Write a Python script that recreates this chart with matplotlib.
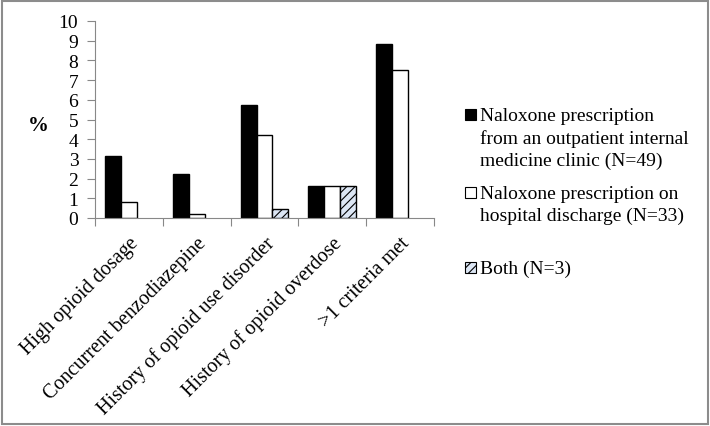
import numpy as np
import matplotlib.pyplot as plt
from matplotlib.patches import Rectangle

plt.rcParams['font.family'] = ['Liberation Serif', 'DejaVu Serif']
plt.rcParams['hatch.color'] = '#5b7fb5'
plt.rcParams['hatch.linewidth'] = 0.8

# data (%)
categories = ["High opioid dosage", "Concurrent benzodiazepine",
              "History of opioid use disorder", "History of opioid overdose",
              ">1 criteria met"]
outpatient = [3.15, 2.25, 5.75, 1.6, 8.85]
discharge = [0.8, 0.2, 4.2, 1.6, 7.5]
both = [0, 0, 0.45, 1.6, 0]
labels = ["Naloxone prescription\nfrom an outpatient internal\nmedicine clinic (N=49)",
          "Naloxone prescription on\nhospital discharge (N=33)",
          "Both (N=3)"]

W, H = 710, 427
fig = plt.figure(figsize=(W / 100, H / 100), dpi=100)
ax = fig.add_axes([95 / W, 1 - 219 / H, 339 / W, 197 / H])

x = np.arange(len(categories))
w = 0.235
b1 = ax.bar(x - w, outpatient, w, color='black', edgecolor='black', linewidth=1)
b2 = ax.bar(x, discharge, w, color='white', edgecolor='black', linewidth=1)
# "Both" only drawn where it has a value
xb = [xi + w for xi, v in zip(x, both) if v > 0]
vb = [v for v in both if v > 0]
b3 = ax.bar(xb, vb, w, color='#dce6f4', edgecolor='black', linewidth=1, hatch='////')

ax.set_xlim(-0.5, len(categories) - 0.5)
ax.set_ylim(0, 10)
ax.set_yticks(range(0, 11))
ax.tick_params(axis='y', labelsize=14, length=6, width=0.8, color='#888888', pad=6)
ax.set_xticks(x)
ax.set_xticklabels(categories, rotation=45, ha='right', rotation_mode='anchor', fontsize=14.5)
ax.tick_params(axis='x', length=0, pad=11)
ax.set_xticks(np.arange(-0.5, len(categories)), minor=True)
ax.tick_params(axis='x', which='minor', length=6, width=0.8, color='#888888')
for s in ['top', 'right']:
    ax.spines[s].set_visible(False)
ax.spines['left'].set_color('#888888')
ax.spines['bottom'].set_color('#888888')

fig.text(38 / W, 1 - 126 / H, '%', fontsize=15, fontweight='bold', ha='center', va='center')

# legend drawn by hand so the key box sits on the first text line
bars = [b1, b2, b3]
top_y = [115, 193, 268]
for bar, lab, yy in zip(bars, labels, top_y):
    p = bar.patches[-1]
    fig.patches.append(Rectangle((465 / W, 1 - (yy + 5.5) / H), 11 / W, 11 / H,
                                 transform=fig.transFigure,
                                 facecolor=p.get_facecolor(), edgecolor='black',
                                 linewidth=0.8, hatch=p.get_hatch()))
    fig.text(480 / W, 1 - (yy - 7) / H, lab, fontsize=14, ha='left', va='top',
             linespacing=1.35)

# gray frame around the figure
fig.patches.append(Rectangle((0.003, 0.004), 0.994, 0.992, transform=fig.transFigure,
                             fill=False, edgecolor='#8c8c8c', linewidth=1.5))

fig.savefig('out.png', dpi=100)
